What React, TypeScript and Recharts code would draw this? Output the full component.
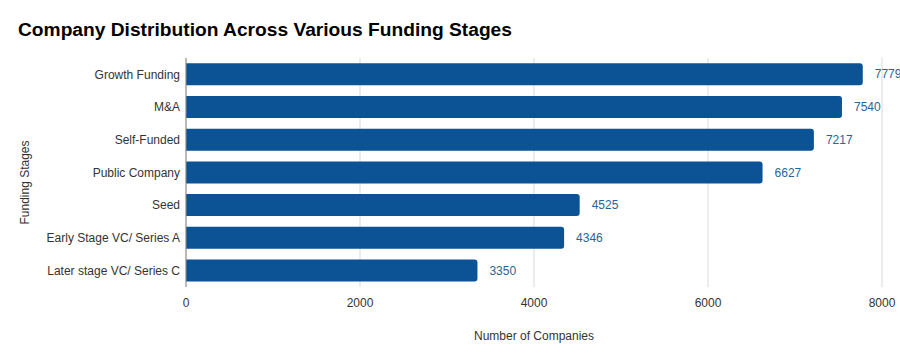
import { Bar, BarChart, CartesianGrid, LabelList, XAxis, YAxis, Label } from "recharts";

const stages = [
  "Growth Funding",
  "M&A",
  "Self-Funded",
  "Public Company",
  "Seed",
  "Early Stage VC/ Series A",
  "Later stage VC/ Series C",
];
const companyCounts = [7779, 7540, 7217, 6627, 4525, 4346, 3350];
const xTicks = [0, 2000, 4000, 6000, 8000];

const data = stages.map((stage, i) => ({ stage, count: companyCounts[i] }));

const FONT = '"Liberation Sans", Arial, sans-serif';

function YTitle(props: any) {
  const vb = props.viewBox || {};
  const cx = 25;
  const cy = (vb.y || 0) + (vb.height || 0) / 2 + 10;
  return (
    <text
      x={cx}
      y={cy}
      transform={`rotate(-90 ${cx} ${cy})`}
      textAnchor="middle"
      dominantBaseline="central"
      fontSize={12}
      fill="#333"
      fontFamily={FONT}
    >
      Funding Stages
    </text>
  );
}

export default function App() {
  return (
    <div style={{ position: "absolute", left: 0, top: 0, width: 900, height: 360, background: "#fff", fontFamily: FONT }}>
      <div
        style={{
          position: "absolute",
          left: 18,
          top: 19,
          fontSize: 19.2,
          fontWeight: "bold",
          color: "#000",
          whiteSpace: "nowrap",
        }}
      >
        Company Distribution Across Various Funding Stages
      </div>
      <BarChart
        width={900}
        height={360}
        data={data}
        layout="vertical"
        margin={{ top: 58, right: 18, bottom: 0, left: 0 }}
        barCategoryGap="16%"
      >
        <CartesianGrid horizontal={false} stroke="#d9d9d9" />
        <XAxis
          type="number"
          domain={[0, 8000]}
          ticks={xTicks}
          axisLine={false}
          tickLine={false}
          height={73}
          tick={{ fontSize: 12, fill: "#333", fontFamily: FONT }}
          tickMargin={5}
        >
          <Label
            value="Number of Companies"
            position="insideBottom"
            offset={20}
            style={{ fontSize: 12, fill: "#333", fontFamily: FONT }}
          />
        </XAxis>
        <YAxis
          type="category"
          dataKey="stage"
          width={186}
          axisLine={{ stroke: "#888" }}
          tickLine={false}
          tickSize={0}
          tickMargin={6}
          interval={0}
          tick={{ fontSize: 12, fill: "#333", fontFamily: FONT }}
        >
          <Label content={<YTitle />} />
        </YAxis>
        <Bar dataKey="count" fill="#0b5394" radius={[0, 3, 3, 0]} isAnimationActive={false}>
          <LabelList
            dataKey="count"
            position="right"
            offset={12}
            style={{ fontSize: 12, fill: "#2a6496", fontFamily: FONT }}
          />
        </Bar>
      </BarChart>
    </div>
  );
}
